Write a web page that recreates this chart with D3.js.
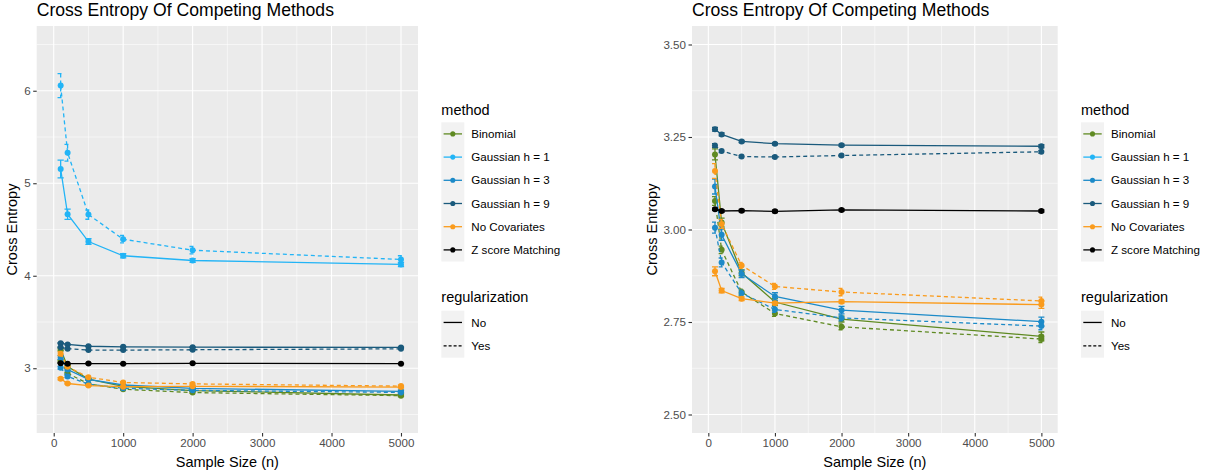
<!DOCTYPE html>
<html>
<head>
<meta charset="utf-8">
<script src="https://cdn.jsdelivr.net/npm/d3@7/dist/d3.min.js"></script>
<style>
  html, body { margin: 0; padding: 0; background: #ffffff; }
  svg { display: block; font-family: "Liberation Sans", Arial, Helvetica, sans-serif; }
</style>
</head>
<body>
<svg id="chart" width="1207" height="476"></svg>
<script>
// Sample sizes on the x axis
const sampleSizes = [100, 200, 500, 1000, 2000, 5000];

// Methods and their legend colours
const methods = ["Binomial", "Gaussian h = 1", "Gaussian h = 3", "Gaussian h = 9", "No Covariates", "Z score Matching"];
const methodColors = ["#5f8a22", "#22b4f6", "#1c8ac8", "#1a5a7c", "#fa9b1c", "#000000"];
const regularizationLevels = ["No", "Yes"];

// Mean cross entropy per sample size
const binomialNo  = [3.203, 3.019, 2.883, 2.804, 2.758, 2.711];
const binomialYes = [3.077, 2.945, 2.831, 2.773, 2.737, 2.704];
const gauss1No    = [5.154, 4.665, 4.370, 4.216, 4.165, 4.122];
const gauss1Yes   = [6.056, 5.330, 4.661, 4.395, 4.276, 4.176];
const gauss3No    = [3.116, 2.986, 2.880, 2.819, 2.782, 2.751];
const gauss3Yes   = [3.005, 2.911, 2.828, 2.784, 2.761, 2.739];
const gauss9No    = [3.271, 3.257, 3.238, 3.232, 3.228, 3.225];
const gauss9Yes   = [3.227, 3.212, 3.197, 3.196, 3.200, 3.210];
const noCovNo     = [2.887, 2.835, 2.813, 2.801, 2.805, 2.797];
const noCovYes    = [3.158, 3.015, 2.903, 2.846, 2.831, 2.807];
const zScoreNo    = [3.055, 3.050, 3.051, 3.049, 3.053, 3.050];

// Standard errors (half height of each error bar)
const binomialNoErr  = [0.015, 0.012, 0.008, 0.010, 0.008, 0.012];
const binomialYesErr = [0.012, 0.010, 0.008, 0.008, 0.008, 0.010];
const gauss1NoErr    = [0.095, 0.055, 0.030, 0.022, 0.020, 0.022];
const gauss1YesErr   = [0.130, 0.090, 0.050, 0.040, 0.040, 0.040];
const gauss3NoErr    = [0.020, 0.015, 0.010, 0.010, 0.010, 0.012];
const gauss3YesErr   = [0.015, 0.012, 0.008, 0.008, 0.008, 0.010];
const gauss9NoErr    = [0.005, 0.004, 0.003, 0.003, 0.003, 0.004];
const gauss9YesErr   = [0.005, 0.004, 0.003, 0.003, 0.003, 0.004];
const noCovNoErr     = [0.012, 0.006, 0.005, 0.004, 0.004, 0.010];
const noCovYesErr    = [0.020, 0.012, 0.008, 0.008, 0.010, 0.010];
const zScoreNoErr    = [0.003, 0.003, 0.003, 0.003, 0.003, 0.003];

// Axis ticks
const xTicks = [0, 1000, 2000, 3000, 4000, 5000];
const xMinorTicks = [500, 1500, 2500, 3500, 4500];
const yTicksFull = [3, 4, 5, 6];
const yMinorFull = [2.5, 3.5, 4.5, 5.5, 6.5];
const yTicksZoom = [2.5, 2.75, 3.0, 3.25, 3.5];
const yMinorZoom = [2.625, 2.875, 3.125, 3.375];

const series = [
  { method: 0, reg: "No",  values: binomialNo,  err: binomialNoErr },
  { method: 0, reg: "Yes", values: binomialYes, err: binomialYesErr },
  { method: 1, reg: "No",  values: gauss1No,    err: gauss1NoErr },
  { method: 1, reg: "Yes", values: gauss1Yes,   err: gauss1YesErr },
  { method: 2, reg: "No",  values: gauss3No,    err: gauss3NoErr },
  { method: 2, reg: "Yes", values: gauss3Yes,   err: gauss3YesErr },
  { method: 3, reg: "No",  values: gauss9No,    err: gauss9NoErr },
  { method: 3, reg: "Yes", values: gauss9Yes,   err: gauss9YesErr },
  { method: 4, reg: "No",  values: noCovNo,     err: noCovNoErr },
  { method: 4, reg: "Yes", values: noCovYes,    err: noCovYesErr },
  { method: 5, reg: "No",  values: zScoreNo,    err: zScoreNoErr }
];

const svg = d3.select("#chart");
const DASH = "4,3";
const LINE_W = 1.3;
const PT_R = 3;

function drawPanel(opt) {
  const { left, right, top, bottom, yDomain, yTicks, yMinor, yFormat } = opt;
  const x = d3.scaleLinear().domain([-245, 5245]).range([left, right]);
  const y = d3.scaleLinear().domain(yDomain).range([bottom, top]);
  const g = svg.append("g");

  // panel background
  g.append("rect").attr("x", left).attr("y", top)
    .attr("width", right - left).attr("height", bottom - top).attr("fill", "#ebebeb");

  // grid
  const grid = g.append("g");
  grid.selectAll(".xminor").data(xMinorTicks).join("line")
    .attr("x1", d => x(d)).attr("x2", d => x(d)).attr("y1", top).attr("y2", bottom)
    .attr("stroke", "#fff").attr("stroke-width", 0.55);
  grid.selectAll(".yminor").data(yMinor).join("line")
    .attr("y1", d => y(d)).attr("y2", d => y(d)).attr("x1", left).attr("x2", right)
    .attr("stroke", "#fff").attr("stroke-width", 0.55);
  grid.selectAll(".xmajor").data(xTicks).join("line")
    .attr("x1", d => x(d)).attr("x2", d => x(d)).attr("y1", top).attr("y2", bottom)
    .attr("stroke", "#fff").attr("stroke-width", 1.1);
  grid.selectAll(".ymajor").data(yTicks).join("line")
    .attr("y1", d => y(d)).attr("y2", d => y(d)).attr("x1", left).attr("x2", right)
    .attr("stroke", "#fff").attr("stroke-width", 1.1);

  // axes
  const xAxis = g.append("g").attr("transform", `translate(0,${bottom})`)
    .call(d3.axisBottom(x).tickValues(xTicks).tickSize(3.5).tickPadding(2.5).tickFormat(d3.format("d")));
  const yAxis = g.append("g").attr("transform", `translate(${left},0)`)
    .call(d3.axisLeft(y).tickValues(yTicks).tickSize(3.5).tickPadding(2.5).tickFormat(d3.format(yFormat)));
  [xAxis, yAxis].forEach(a => {
    a.select(".domain").remove();
    a.selectAll(".tick line").attr("stroke", "#333333").attr("stroke-width", 1.1);
    a.selectAll(".tick text").attr("fill", "#4d4d4d").style("font-size", "11.6px")
      .style("font-family", "'Liberation Sans', Arial, Helvetica, sans-serif");
  });

  // data layers, clipped to the panel
  const clipId = "clip" + Math.round(left);
  g.append("clipPath").attr("id", clipId).append("rect")
    .attr("x", left).attr("y", top).attr("width", right - left).attr("height", bottom - top);
  const plot = g.append("g").attr("clip-path", `url(#${clipId})`);

  const inRange = v => v >= yDomain[0] && v <= yDomain[1];
  const line = d3.line().defined(d => inRange(d.v)).x(d => x(d.n)).y(d => y(d.v));

  series.forEach(s => {
    const pts = sampleSizes.map((n, i) => ({ n, v: s.values[i], e: s.err[i] }));
    const col = methodColors[s.method];
    const dash = s.reg === "Yes" ? DASH : null;
    const sg = plot.append("g");
    sg.append("path").datum(pts).attr("d", line)
      .attr("fill", "none").attr("stroke", col).attr("stroke-width", LINE_W)
      .attr("stroke-dasharray", dash);
    const shown = pts.filter(p => inRange(p.v));
    const eb = sg.selectAll(".eb").data(shown).join("g");
    const capW = 45;
    eb.append("path")
      .attr("d", p => `M${x(p.n - capW)},${y(p.v + p.e)}H${x(p.n + capW)}M${x(p.n)},${y(p.v + p.e)}V${y(p.v - p.e)}M${x(p.n - capW)},${y(p.v - p.e)}H${x(p.n + capW)}`)
      .attr("fill", "none").attr("stroke", col).attr("stroke-width", LINE_W)
      .attr("stroke-dasharray", dash);
    sg.selectAll("circle").data(shown).join("circle")
      .attr("cx", p => x(p.n)).attr("cy", p => y(p.v)).attr("r", PT_R).attr("fill", col);
  });

  // titles
  svg.append("text").attr("x", left).attr("y", 16)
    .attr("fill", "#000").style("font-size", "17.6px").text("Cross Entropy Of Competing Methods");
  svg.append("text").attr("x", (left + right) / 2).attr("y", 467)
    .attr("text-anchor", "middle").attr("fill", "#000").style("font-size", "14.5px").text("Sample Size (n)");
  svg.append("text")
    .attr("transform", `translate(${opt.yTitleX},${(top + bottom) / 2}) rotate(-90)`)
    .attr("text-anchor", "middle").attr("fill", "#000").style("font-size", "14.5px").text("Cross Entropy");

  // legends
  const lx = right + 23.3;
  const lg = svg.append("g");
  lg.append("text").attr("x", lx).attr("y", 115).style("font-size", "14.5px").text("method");
  const keyTop = 122.3, keyH = 23.2, keyW = 23;
  lg.append("rect").attr("x", lx).attr("y", keyTop).attr("width", keyW).attr("height", keyH * methods.length)
    .attr("fill", "#f2f2f2");
  methods.forEach((m, i) => {
    const cy = keyTop + keyH * (i + 0.5);
    lg.append("line").attr("x1", lx + 2.3).attr("x2", lx + keyW - 2.3).attr("y1", cy).attr("y2", cy)
      .attr("stroke", methodColors[i]).attr("stroke-width", LINE_W);
    lg.append("circle").attr("cx", lx + keyW / 2).attr("cy", cy).attr("r", PT_R * 0.85).attr("fill", methodColors[i]);
    lg.append("text").attr("x", lx + 30).attr("y", cy + 4.1).style("font-size", "11.6px").text(m);
  });
  lg.append("text").attr("x", lx).attr("y", 302.3).style("font-size", "14.5px").text("regularization");
  const rTop = 310.7, rH = 23.5;
  lg.append("rect").attr("x", lx).attr("y", rTop).attr("width", keyW).attr("height", rH * 2).attr("fill", "#f2f2f2");
  regularizationLevels.forEach((r, i) => {
    const cy = rTop + rH * (i + 0.5);
    lg.append("line").attr("x1", lx + 2.3).attr("x2", lx + keyW - 2.3).attr("y1", cy).attr("y2", cy)
      .attr("stroke", "#000").attr("stroke-width", LINE_W)
      .attr("stroke-dasharray", r === "Yes" ? "3,2" : null);
    lg.append("text").attr("x", lx + 30).attr("y", cy + 4.1).style("font-size", "11.6px").text(r);
  });
}

// full range panel
drawPanel({
  left: 36.7, right: 418, top: 26, bottom: 433,
  yDomain: [2.3, 6.7], yTicks: yTicksFull, yMinor: yMinorFull, yFormat: "d", yTitleX: 17
});

// zoomed panel
drawPanel({
  left: 692, right: 1057.7, top: 26, bottom: 433,
  yDomain: [2.45, 3.55], yTicks: yTicksZoom, yMinor: yMinorZoom, yFormat: ".2f", yTitleX: 656.5
});
</script>
</body>
</html>
